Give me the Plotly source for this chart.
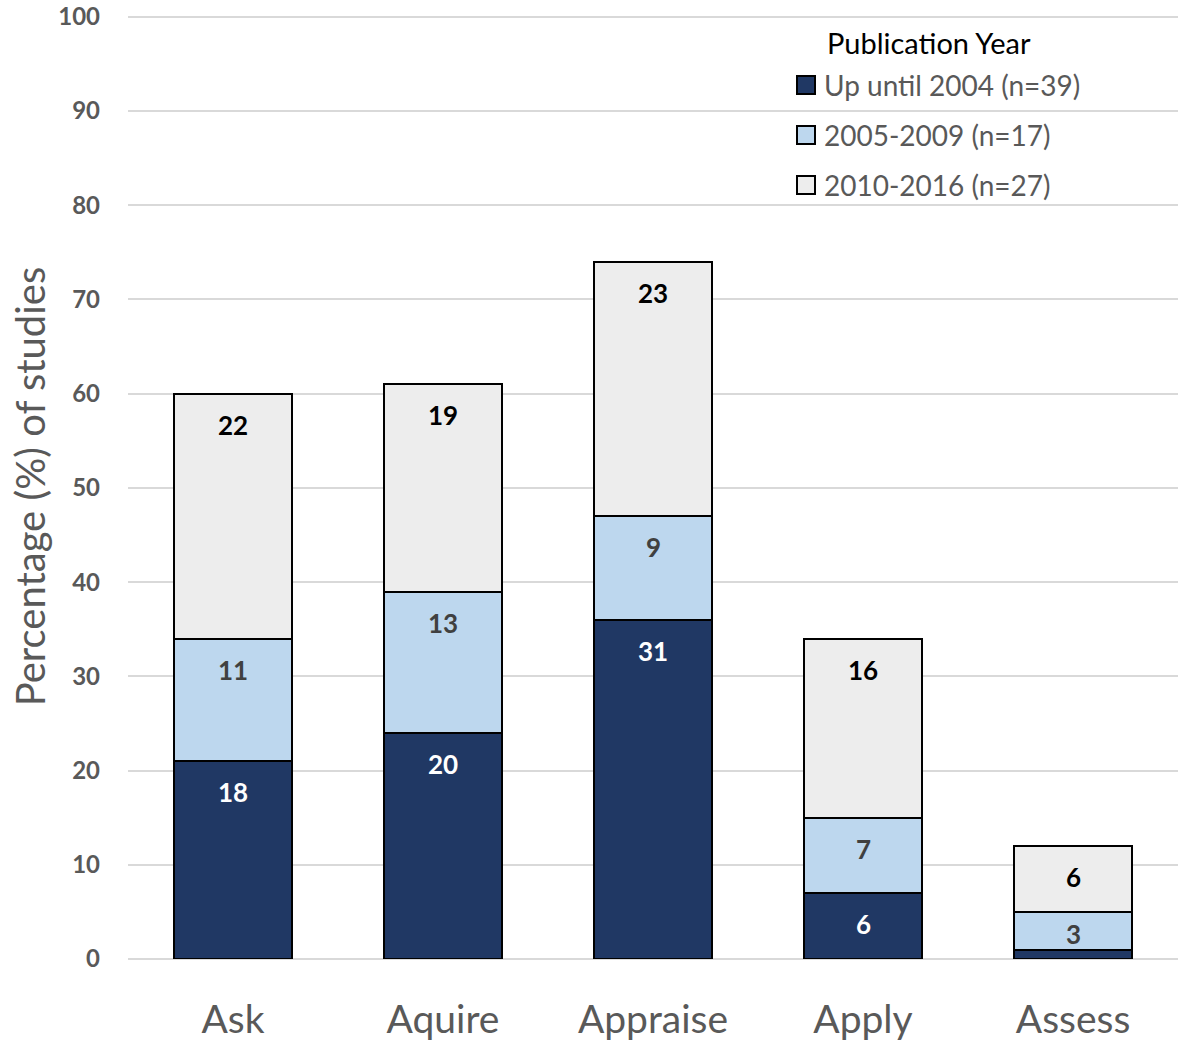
import plotly.graph_objects as go

categories = ["Ask", "Aquire", "Appraise", "Apply", "Assess"]
series_names = ["Up until 2004 (n=39)", "2005-2009 (n=17)", "2010-2016 (n=27)"]
vals_2004 = [21, 24, 36, 7, 1]
vals_2009 = [13, 15, 11, 8, 4]
vals_2016 = [26, 22, 27, 19, 7]
labels_2004 = ["18", "20", "31", "6", ""]
labels_2009 = ["11", "13", "9", "7", "3"]
labels_2016 = ["22", "19", "23", "16", "6"]
y_ticks = [0, 10, 20, 30, 40, 50, 60, 70, 80, 90, 100]
legend_title = "Publication Year"

colors = ["#203864", "#BDD7EE", "#EDEDED"]
label_colors = ["#FFFFFF", "#404040", "#000000"]
FONT = "Lato"
W, H = 1181, 1042
ML, MR, MT, MB = 128, 3, 14, 83
YMAX = 100.3

fig = go.Figure()
series = [vals_2004, vals_2009, vals_2016]
labels = [labels_2004, labels_2009, labels_2016]
for i, (name, vals) in enumerate(zip(series_names, series)):
    fig.add_trace(go.Bar(
        x=categories, y=vals, name=name, showlegend=False,
        marker=dict(color=colors[i], line=dict(color="#000000", width=2)),
        hoverinfo="skip",
    ))

# segment labels near the top of each segment
cum = [0] * len(categories)
for i, vals in enumerate(series):
    for j, c in enumerate(categories):
        top = cum[j] + vals[j]
        if labels[i][j]:
            if vals[j] >= 6:
                y, shift = top, -31
            else:
                y, shift = cum[j] + vals[j] / 2.0, -3
            fig.add_annotation(x=c, y=y, text="<b>%s</b>" % labels[i][j],
                               showarrow=False, yshift=shift, yanchor="middle",
                               font=dict(family=FONT, size=26, color=label_colors[i]))
        cum[j] = top

# custom legend (pixel positions converted to paper coords)
def px(xp):
    return (xp - ML) / (W - ML - MR)

def py(yp):
    return (H - MB - yp) / (H - MT - MB)

fig.add_annotation(xref="paper", yref="paper", x=px(825), y=py(42), text=legend_title,
                   showarrow=False, xanchor="left", yanchor="middle",
                   font=dict(family=FONT, size=29, color="#000000"))
for i, name in enumerate(series_names):
    yc = 85 + 50 * i
    fig.add_shape(type="rect", xref="paper", yref="paper",
                  x0=px(797), x1=px(815), y0=py(yc - 9), y1=py(yc + 9),
                  fillcolor=colors[i], line=dict(color="#000000", width=2))
    fig.add_annotation(xref="paper", yref="paper", x=px(822), y=py(yc), text=name,
                       showarrow=False, xanchor="left", yanchor="middle",
                       font=dict(family=FONT, size=28, color="#595959"))

fig.update_layout(
    barmode="stack",
    bargap=0.44,
    width=W, height=H,
    margin=dict(l=ML, r=MR, t=MT, b=MB, autoexpand=False),
    plot_bgcolor="white", paper_bgcolor="white",
    font=dict(family=FONT, color="#595959"),
    showlegend=False,
)
fig.update_xaxes(
    tickfont=dict(family=FONT, size=39, color="#595959"),
    showgrid=False, showline=False, ticks="", ticklabelstandoff=34,
    automargin=False, ticklabeloverflow="allow",
)
fig.update_yaxes(
    range=[0, YMAX], tickvals=y_ticks,
    ticktext=["<b>%d</b>" % v for v in y_ticks],
    tickfont=dict(family=FONT, size=24, color="#595959"),
    showgrid=True, gridcolor="#D9D9D9", gridwidth=2,
    zeroline=True, zerolinecolor="#D9D9D9", zerolinewidth=2,
    ticklabelstandoff=27, automargin=False, ticklabeloverflow="allow",
    title=dict(text="Percentage (%) of studies", font=dict(family=FONT, size=40, color="#595959"), standoff=0),
)

fig.write_html("out.html", config={"displayModeBar": False},
               post_script="document.body.style.margin='0';document.body.style.overflow='hidden';")
